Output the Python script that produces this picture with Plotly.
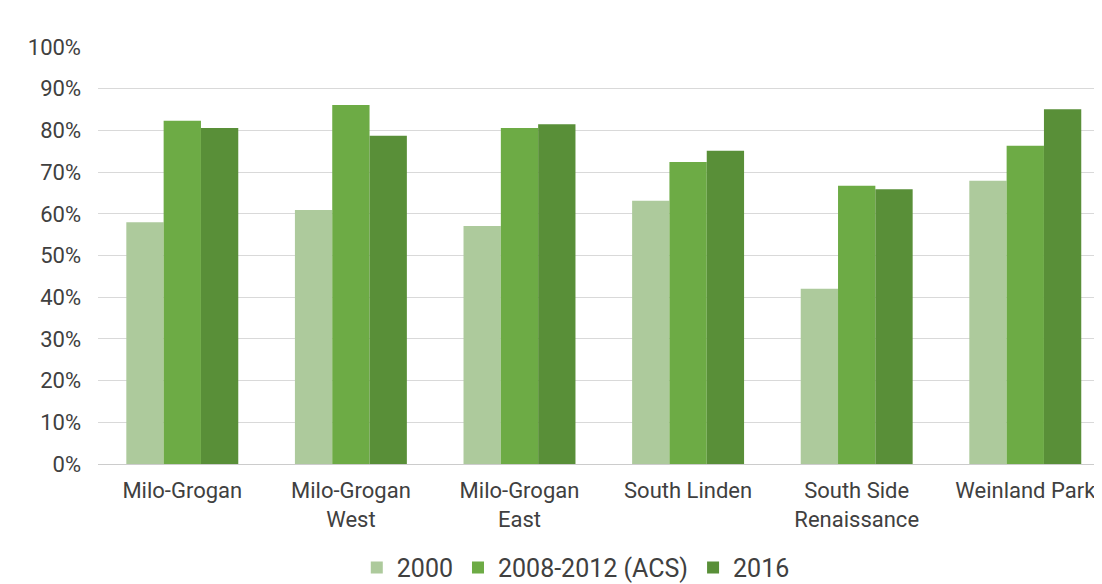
import plotly.graph_objects as go

categories = ["Milo-Grogan", "Milo-Grogan<br>West", "Milo-Grogan<br>East", "South Linden",
              "South Side<br>Renaissance", "Weinland Park"]
series_names = ["2000", "2008-2012 (ACS)", "2016"]
v2000 = [0.58, 0.609, 0.571, 0.631, 0.42, 0.679]
vacs = [0.823, 0.861, 0.806, 0.724, 0.667, 0.763]
v2016 = [0.806, 0.787, 0.815, 0.751, 0.659, 0.851]
colors = ["#adca9c", "#6dab45", "#598f38"]

fig = go.Figure()
for name, vals, col in zip(series_names, [v2000, vacs, v2016], colors):
    fig.add_trace(go.Bar(x=categories, y=vals, name=name, marker=dict(color=col, line=dict(width=0))))

fig.update_layout(
    width=1094, height=576,
    margin=dict(l=90, r=0, t=39, b=120, autoexpand=False),
    paper_bgcolor="white", plot_bgcolor="white",
    barmode="group", bargap=0.336, bargroupgap=0,
    font=dict(family="Roboto", size=20, color="#404040"),
    showlegend=True,
    legend=dict(orientation="h", x=0.519, xanchor="center", xref="container",
                y=-0.249, yanchor="middle", yref="paper",
                font=dict(size=25, color="#404040"), itemwidth=30,
                traceorder="normal"),
    xaxis=dict(range=[-0.5, 5.455], showline=True, linecolor="#cccccc", linewidth=1,
               ticks="", ticklabelstandoff=7, tickfont=dict(size=22, color="#404040")),
    yaxis=dict(range=[0, 1.0], dtick=0.1, tickformat=".0%", showgrid=True,
               gridcolor="#d9d9d9", gridwidth=1, zeroline=False,
               ticks="", ticklabelstandoff=16, tickfont=dict(size=22, color="#404040")),
)
fig.write_html("out.html")
